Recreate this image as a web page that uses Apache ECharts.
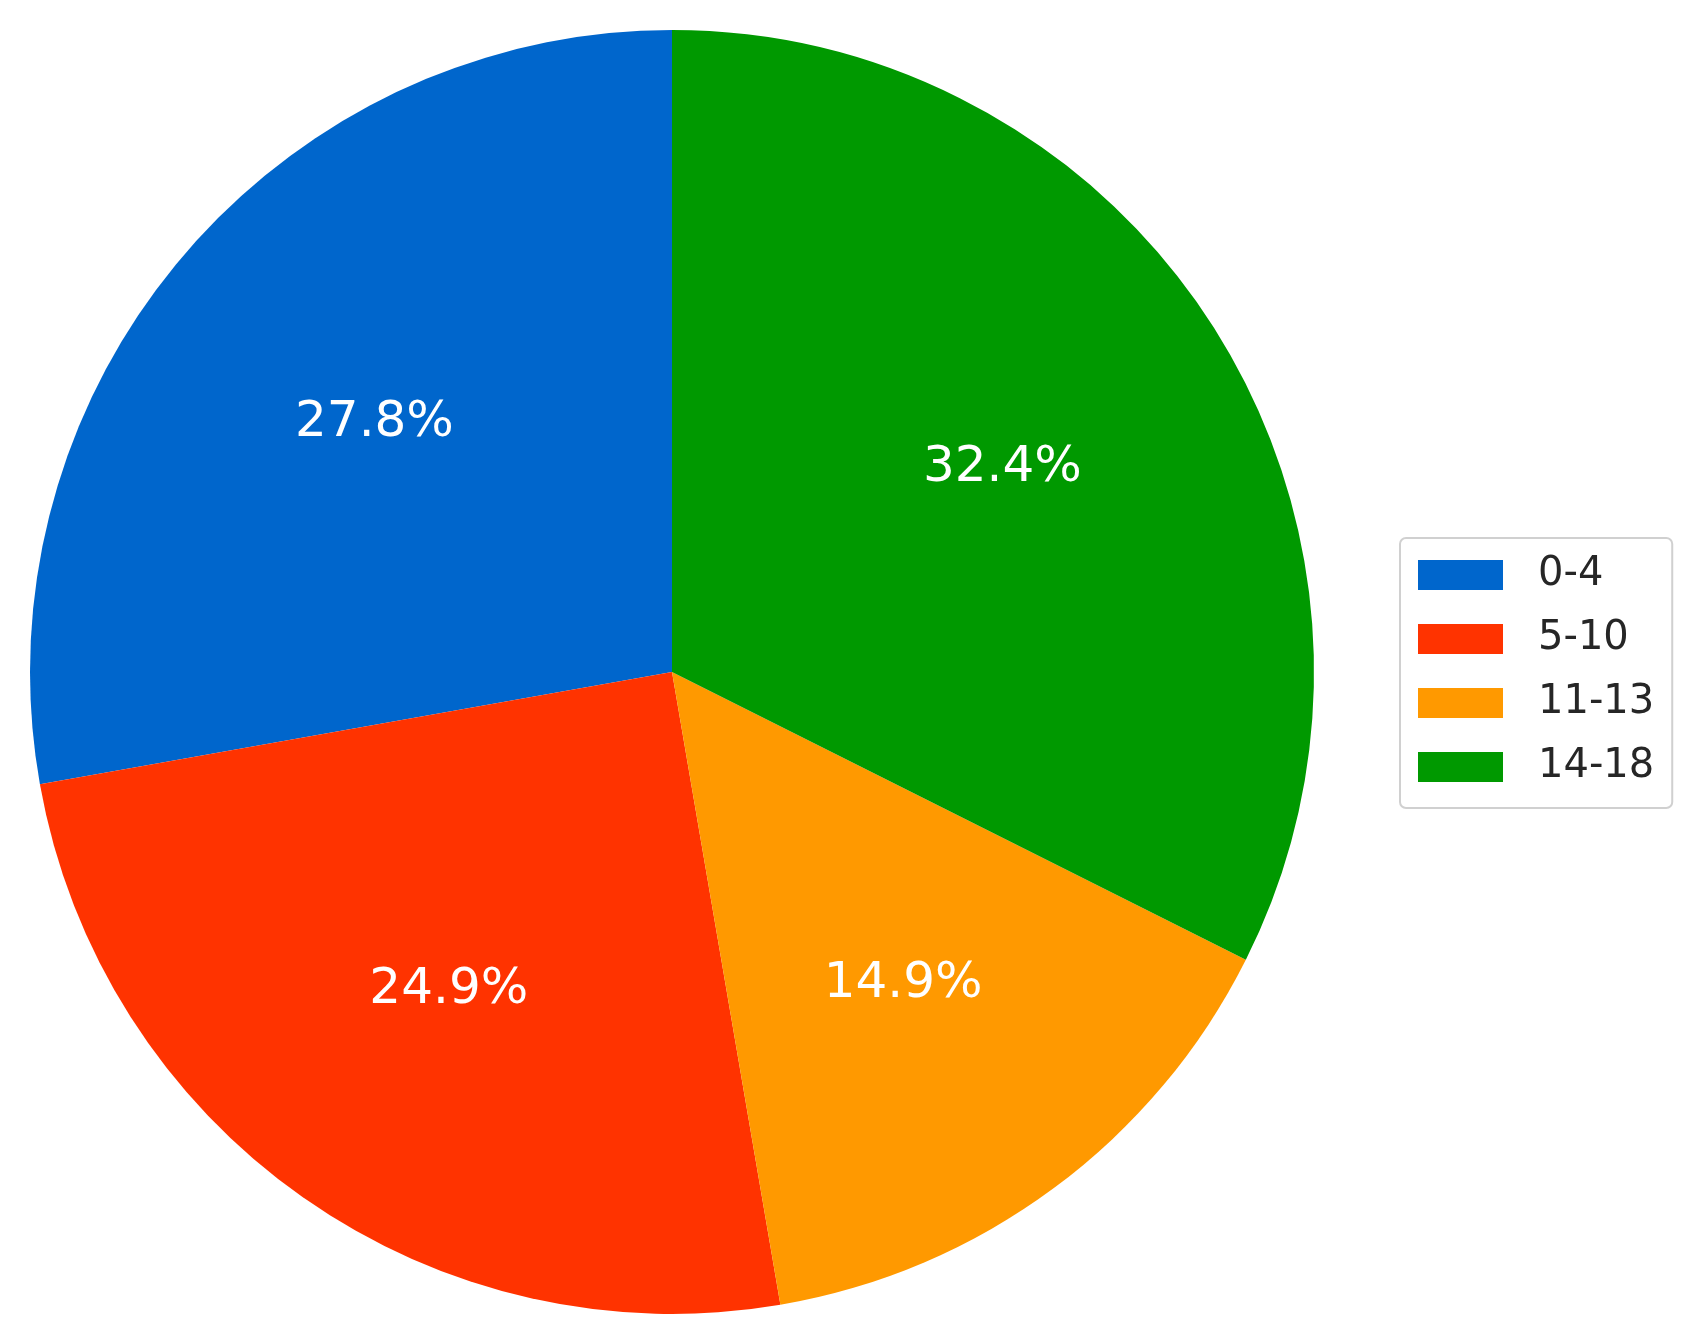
<!DOCTYPE html>
<html>
<head>
<meta charset="utf-8">
<script src="https://cdn.jsdelivr.net/npm/echarts@6/dist/echarts.min.js"></script>
<style>
html,body{margin:0;padding:0;background:#fff;}
#chart{width:1700px;height:1336px;}
</style>
</head>
<body>
<div id="chart"></div>
<script>
const categories = ['0-4', '5-10', '11-13', '14-18'];
const shares = [27.8, 24.9, 14.9, 32.4];
const colors = ['#0066CC', '#FF3300', '#FF9900', '#009900'];

const chart = echarts.init(document.getElementById('chart'), null, {renderer: 'canvas'});
const font = 'DejaVu Sans';
const cx = 672, cy = 672, R = 642;

const pieData = categories.map((c, i) => ({name: c, value: shares[i], itemStyle: {color: colors[i]}}));
const labelData = categories.map((c, i) => ({name: c, value: shares[i]}));

chart.setOption({
  animation: false,
  backgroundColor: '#ffffff',
  legend: {
    orient: 'vertical',
    left: 1400,
    top: 538,
    data: categories,
    itemWidth: 85,
    itemHeight: 30,
    itemGap: 24,
    icon: 'rect',
    padding: [17, 18, 21, 18],
    borderColor: '#d0d0d0',
    borderWidth: 2,
    borderRadius: 6,
    backgroundColor: '#ffffff',
    selectedMode: false,
    textStyle: {fontFamily: font, fontSize: 40, color: '#262626', padding: [0, 0, 0, 30]}
  },
  series: [
    {
      type: 'pie',
      center: [cx, cy],
      radius: [0, R],
      startAngle: 90,
      clockwise: false,
      silent: true,
      label: {show: false},
      labelLine: {show: false},
      itemStyle: {borderWidth: 0},
      data: pieData
    },
    {
      type: 'pie',
      center: [cx, cy],
      radius: [0.2 * R, R],
      startAngle: 90,
      clockwise: false,
      silent: true,
      itemStyle: {color: 'rgba(0,0,0,0)', borderWidth: 0},
      label: {
        show: true,
        position: 'inside',
        formatter: p => p.value.toFixed(1) + '%',
        fontFamily: font,
        fontSize: 50,
        color: '#ffffff'
      },
      labelLine: {show: false},
      data: labelData
    }
  ]
});
</script>
</body>
</html>
